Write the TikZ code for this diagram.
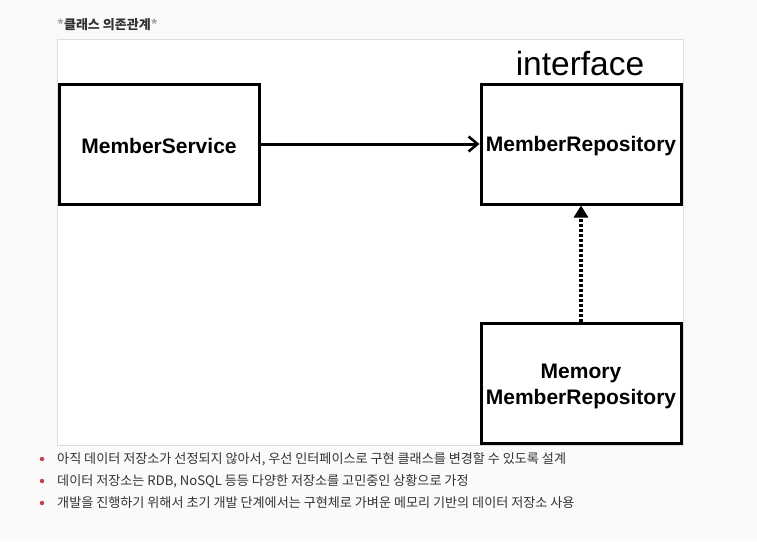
\documentclass[tikz,border=0pt]{standalone}
\usepackage{fontspec}
\setmainfont{Liberation Sans}
\newfontfamily\kr{Noto Sans CJK KR}
\usetikzlibrary{arrows.meta}
\definecolor{pagebg}{HTML}{FAFAFA}
\definecolor{framegray}{HTML}{DDDDDD}
\definecolor{txtgray}{HTML}{333333}
\definecolor{bulletred}{HTML}{C8404A}
\tikzset{
  classbox/.style={draw=black, line width=3pt, fill=white, minimum width=200pt, minimum height=120pt, inner sep=0pt, align=center, font=\fontsize{21}{26}\selectfont\bfseries},
  bullettxt/.style={anchor=west, inner sep=0pt, text=txtgray, font=\kr\fontsize{13.1}{15}\selectfont},
  bulletdot/.style={circle, fill=bulletred, inner sep=0pt, minimum size=4.5pt}
}
\begin{document}
\begin{tikzpicture}[x=1pt,y=-1pt]
\useasboundingbox (0,0) rectangle (757,541);
\fill[pagebg] (0,0) rectangle (757,541);
\node[anchor=west, inner sep=0pt, text=txtgray, font=\kr\fontsize{13}{15}\selectfont\bfseries] (title) at (57,25) {\textcolor{gray!70}{*}클래스 의존관계\textcolor{gray!70}{*}};
\draw[framegray, fill=white, line width=0.8pt] (57,39) rectangle (683,445);
\node[classbox] (svc) at (159,144) {};
\node[classbox] (repo) at (581,144) {};
\node[classbox] (mem) at (581,383) {};
\node[font=\fontsize{21}{26}\selectfont\bfseries, inner sep=0pt] (svct) at (159,146) {MemberService};
\node[font=\fontsize{21}{26}\selectfont\bfseries, inner sep=0pt] (repot) at (581,146) {MemberRepository};
\node[font=\fontsize{21}{26}\selectfont\bfseries, inner sep=0pt, align=center] (memt) at (581,386) {Memory\\MemberRepository};
\node[font=\fontsize{33.5}{36}\selectfont, inner sep=0pt] (iface) at (580,64) {interface};
\draw[line width=3pt, -{Straight Barb[length=9pt,width=15pt,line width=2.5pt]}] (svc.east) -- (repo.west);
\draw[line width=3.2pt, dash pattern=on 2.6pt off 2.4pt, -{Triangle[length=12pt,width=14pt]}] (mem.north) -- (repo.south);
\node[bulletdot] (b1) at (42,459) {};
\node[bullettxt] (t1) at (57,459) {아직 데이터 저장소가 선정되지 않아서, 우선 인터페이스로 구현 클래스를 변경할 수 있도록 설계};
\node[bulletdot] (b2) at (42,481) {};
\node[bullettxt] (t2) at (57,481) {데이터 저장소는 RDB, NoSQL 등등 다양한 저장소를 고민중인 상황으로 가정};
\node[bulletdot] (b3) at (42,503) {};
\node[bullettxt] (t3) at (57,503) {개발을 진행하기 위해서 초기 개발 단계에서는 구현체로 가벼운 메모리 기반의 데이터 저장소 사용};
\end{tikzpicture}
\end{document}
